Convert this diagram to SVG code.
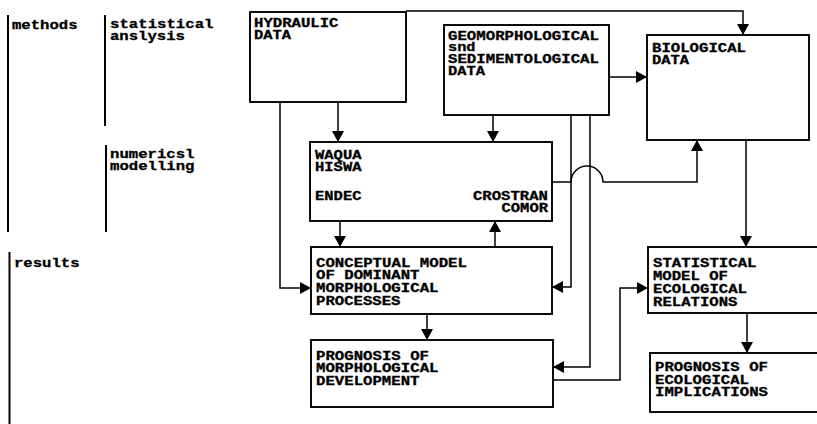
<svg xmlns="http://www.w3.org/2000/svg" width="817" height="424" viewBox="0 0 817 424">
<defs>
<style>
text{font-family:"Liberation Mono","DejaVu Sans Mono",monospace;font-weight:bold;font-size:12.5px;fill:#000;stroke:#000;stroke-width:0.3}
.box{fill:none;stroke:#000;stroke-width:1.9}
.guide{stroke:#000;stroke-width:2;fill:none}
.c{fill:none;stroke:#000;stroke-width:1.5}
.a{marker-end:url(#ah)}
</style>
<marker id="ah" markerWidth="12" markerHeight="12" refX="11" refY="6" orient="auto" markerUnits="userSpaceOnUse">
<path d="M0,0 L11,6 L0,12 Z" fill="#000"/>
</marker>
</defs>
<rect width="817" height="424" fill="#fff"/>

<g id="labels">
<line class="guide" x1="8" y1="15" x2="8" y2="232"/>
<line class="guide" x1="105" y1="15" x2="105" y2="126"/>
<line class="guide" x1="106" y1="145" x2="106" y2="232"/>
<line class="guide" x1="9.5" y1="252" x2="9.5" y2="424"/>
<text x="12" y="29" textLength="65.5" lengthAdjust="spacingAndGlyphs">methods</text>
<text x="110" y="28" textLength="103.5" lengthAdjust="spacingAndGlyphs">statistical</text>
<text x="110" y="40" textLength="75" lengthAdjust="spacingAndGlyphs">anslysis</text>
<text x="110" y="158" textLength="84.5" lengthAdjust="spacingAndGlyphs">numericsl</text>
<text x="110" y="170" textLength="84.5" lengthAdjust="spacingAndGlyphs">modelling</text>
<text x="14" y="267" textLength="65.5" lengthAdjust="spacingAndGlyphs">results</text>
</g>

<g id="hydraulic">
<rect class="box" x="250" y="12" width="156" height="90"/>
<text x="254" y="27" textLength="84.5" lengthAdjust="spacingAndGlyphs">HYDRAULIC</text>
<text x="254" y="39" textLength="37" lengthAdjust="spacingAndGlyphs">DATA</text>
</g>

<g id="geomorph">
<rect class="box" x="444" y="25" width="165" height="90"/>
<text x="448" y="40" textLength="151" lengthAdjust="spacingAndGlyphs">GEOMORPHOLOGICAL</text>
<text x="448" y="51" textLength="27.5" lengthAdjust="spacingAndGlyphs">snd</text>
<text x="448" y="63" textLength="151" lengthAdjust="spacingAndGlyphs">SEDIMENTOLOGICAL</text>
<text x="448" y="75" textLength="37" lengthAdjust="spacingAndGlyphs">DATA</text>
</g>

<g id="biological">
<rect class="box" x="647" y="35" width="162" height="105"/>
<text x="652" y="52" textLength="94" lengthAdjust="spacingAndGlyphs">BIOLOGICAL</text>
<text x="652" y="64" textLength="37" lengthAdjust="spacingAndGlyphs">DATA</text>
</g>

<g id="models">
<rect class="box" x="310" y="142" width="242" height="79"/>
<text x="315" y="159" textLength="46.5" lengthAdjust="spacingAndGlyphs">WAQUA</text>
<text x="315" y="171" textLength="46.5" lengthAdjust="spacingAndGlyphs">HISWA</text>
<text x="315" y="200" textLength="46.5" lengthAdjust="spacingAndGlyphs">ENDEC</text>
<text x="548" y="200" text-anchor="end" textLength="75" lengthAdjust="spacingAndGlyphs">CROSTRAN</text>
<text x="548" y="212" text-anchor="end" textLength="46.5" lengthAdjust="spacingAndGlyphs">COMOR</text>
</g>

<g id="conceptual">
<rect class="box" x="311" y="247" width="241" height="67"/>
<text x="316" y="267" textLength="151" lengthAdjust="spacingAndGlyphs">CONCEPTUAL MODEL</text>
<text x="316" y="279" textLength="103.5" lengthAdjust="spacingAndGlyphs">OF DOMINANT</text>
<text x="316" y="292" textLength="122.5" lengthAdjust="spacingAndGlyphs">MORPHOLOGICAL</text>
<text x="316" y="305" textLength="84.5" lengthAdjust="spacingAndGlyphs">PROCESSES</text>
</g>

<g id="prog-morph">
<rect class="box" x="311" y="340" width="242" height="67"/>
<text x="316" y="360" textLength="113" lengthAdjust="spacingAndGlyphs">PROGNOSIS OF</text>
<text x="316" y="372" textLength="122.5" lengthAdjust="spacingAndGlyphs">MORPHOLOGICAL</text>
<text x="316" y="385" textLength="103.5" lengthAdjust="spacingAndGlyphs">DEVELOPMENT</text>
</g>

<g id="statistical">
<rect class="box" x="648" y="247" width="180" height="66"/>
<text x="653" y="267" textLength="103.5" lengthAdjust="spacingAndGlyphs">STATISTICAL</text>
<text x="653" y="280" textLength="75" lengthAdjust="spacingAndGlyphs">MODEL OF</text>
<text x="653" y="293" textLength="94" lengthAdjust="spacingAndGlyphs">ECOLOGICAL</text>
<text x="653" y="306" textLength="84.5" lengthAdjust="spacingAndGlyphs">RELATIONS</text>
</g>

<g id="prog-eco">
<rect class="box" x="650" y="353" width="180" height="59"/>
<text x="655" y="371" textLength="113" lengthAdjust="spacingAndGlyphs">PROGNOSIS OF</text>
<text x="655" y="384" textLength="94" lengthAdjust="spacingAndGlyphs">ECOLOGICAL</text>
<text x="655" y="396" textLength="113" lengthAdjust="spacingAndGlyphs">IMPLICATIONS</text>
</g>

<g id="connectors">
<path class="c a" d="M406,11 H743 V35"/>
<path class="c a" d="M338,102 V142"/>
<path class="c a" d="M280,102 V288 H311"/>
<path class="c a" d="M493,115 V142"/>
<path class="c a" d="M609,77 H647"/>
<path class="c a" d="M571,115 V287 H552"/>
<path class="c a" d="M590,115 V367 H553"/>
<path class="c a" d="M552,182 H571 A16,16 0 0 1 603,182 H697 V140"/>
<path class="c a" d="M340,221 V247"/>
<path class="c a" d="M495,247 V221"/>
<path class="c a" d="M427,314 V340"/>
<path class="c a" d="M553,380 H620 V288 H648"/>
<path class="c a" d="M746,140 V247"/>
<path class="c a" d="M747,313 V353"/>
</g>
</svg>
